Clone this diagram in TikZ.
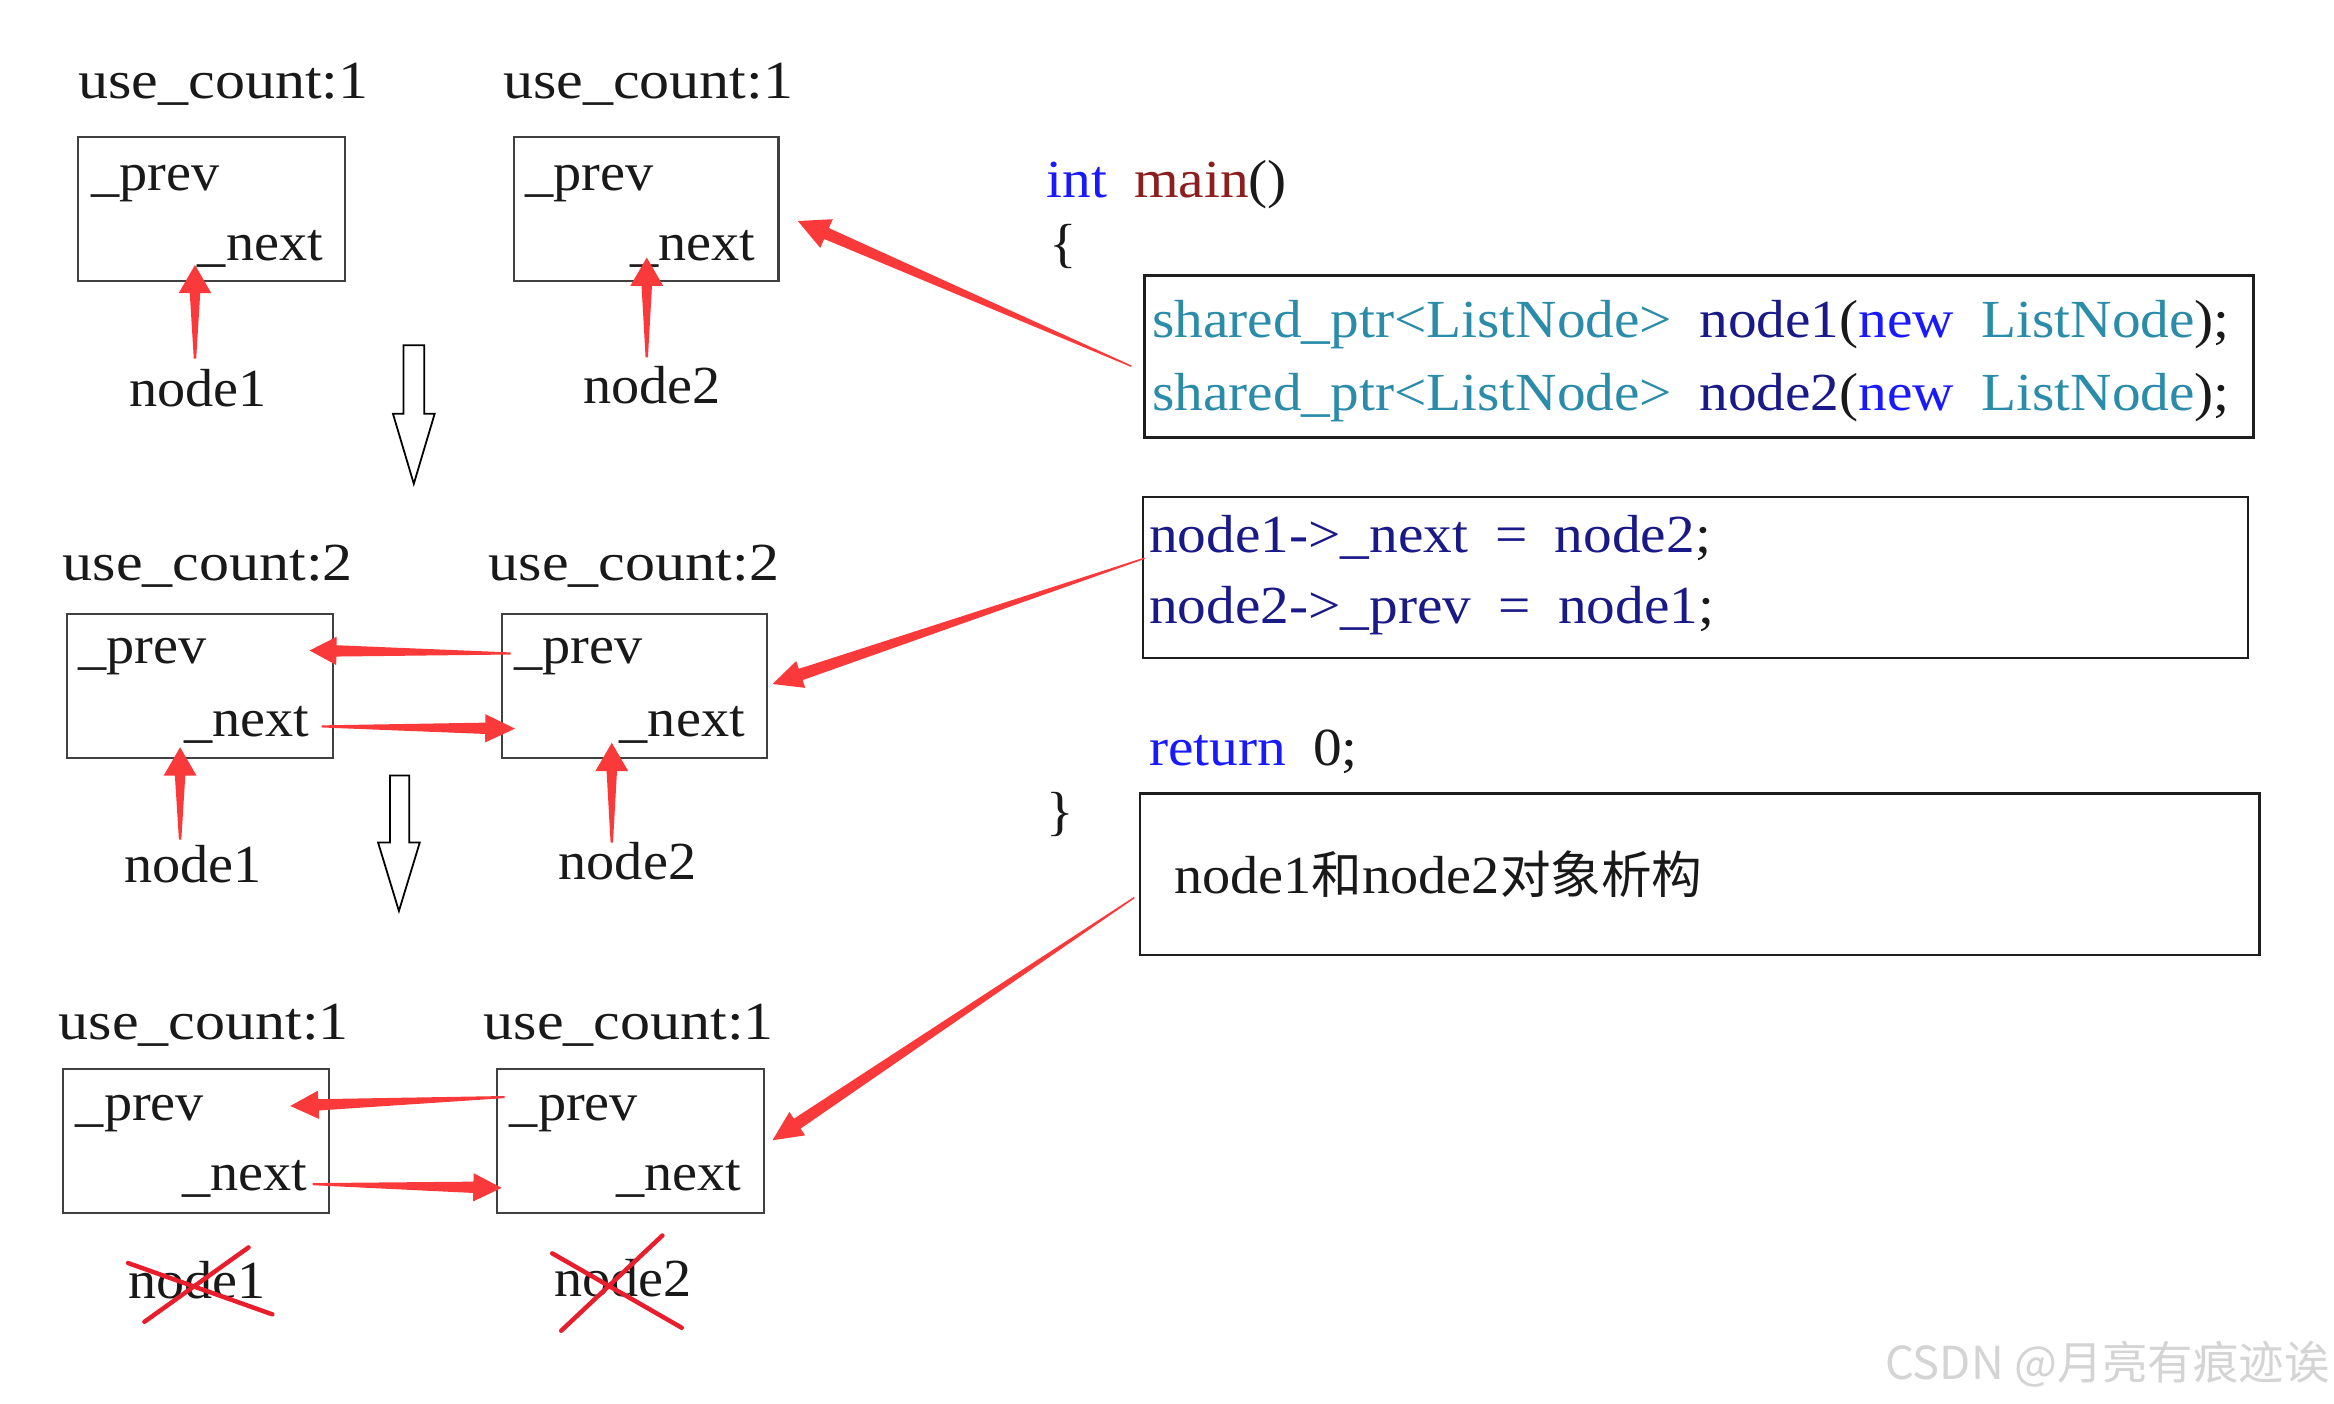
\documentclass[tikz,border=0pt]{standalone}
\usepackage{fontspec}
\setmainfont{Liberation Serif}[FakeStretch=1.05]
\newfontfamily\lblfont{Liberation Serif}[FakeStretch=1.12]
\newfontfamily\codefont{Liberation Serif}[FakeStretch=1.07,WordSpace=1.9]
\newfontfamily\cjk{Noto Sans CJK SC}
\usetikzlibrary{calc}
\definecolor{redc}{RGB}{250,58,58}
\definecolor{crossred}{RGB}{232,30,45}
\definecolor{boxgray}{RGB}{64,64,64}
\definecolor{codeborder}{RGB}{30,30,30}
\definecolor{kwblue}{RGB}{25,25,255}
\definecolor{typeteal}{RGB}{43,140,170}
\definecolor{varnavy}{RGB}{25,25,135}
\definecolor{fnred}{RGB}{140,30,30}
\definecolor{textc}{RGB}{25,25,25}
\definecolor{wmgray}{RGB}{212,212,212}
\tikzset{
  taper/.style args={#1/#2/#3/#4}{to path={
    let \p1=($(\tikztotarget)!#3!(\tikztostart)$) in
    ($(\tikztostart)!#1!90:(\tikztotarget)$)
    -- ($(\p1)!#2!90:(\tikztotarget)$)
    -- ($(\p1)!#4!90:(\tikztotarget)$)
    -- (\tikztotarget)
    -- ($(\p1)!#4!-90:(\tikztotarget)$)
    -- ($(\p1)!#2!-90:(\tikztotarget)$)
    -- ($(\tikztostart)!#1!-90:(\tikztotarget)$)
    -- cycle}},
  redarrow/.style={fill=redc, draw=none},
  txt/.style={anchor=base west, font=\fontsize{36}{40}\selectfont, text=textc},
  lbltxt/.style={anchor=base west, font=\lblfont\fontsize{36}{40}\selectfont, text=textc},
  codetxt/.style={anchor=base west, font=\codefont\fontsize{36}{40}\selectfont, text=textc},
  cellbox/.style={draw=boxgray, line width=1.4pt, anchor=north west},
  codebox/.style={draw=codeborder, line width=1.6pt, anchor=north west},
  crossline/.style={draw=crossred, line width=3pt, line cap=round},
  hollow/.style={draw=black, line width=1.2pt, fill=white, line join=miter}
}
\begin{document}
\begin{tikzpicture}[x=1pt,y=-1pt, every node/.style={inner sep=0pt,outer sep=0pt}]
\useasboundingbox[fill=white] (0,0) rectangle (1568,943.2);

% ---------- row 1 ----------
\node[lbltxt] (r1u1) at (52.7,66) {use\_count:1};
\node[lbltxt] (r1u2) at (338,66) {use\_count:1};
\node[cellbox, minimum width=179.3pt, minimum height=97pt] (r1b1) at (52.7,92) {};
\node[cellbox, minimum width=178pt, minimum height=97pt] (r1b2) at (345,92) {};
\node[txt] (r1p1) at (61.5,127.7) {\_prev};
\node[txt] (r1x1) at (133,174.7) {\_next};
\node[txt] (r1p2) at (353,127.7) {\_prev};
\node[txt] (r1x2) at (423.5,174.7) {\_next};
\node[txt] (r1n1) at (87,273) {node1};
\node[txt] (r1n2) at (392,271.4) {node2};
\coordinate (r1s1) at (131,241);
\coordinate (r1t1) at (131,178);
\coordinate (r1s2) at (434.5,240);
\coordinate (r1t2) at (434.5,173);
\fill[redarrow] (r1s1) to[taper=0.8pt/3.5pt/19pt/11pt] (r1t1);
\fill[redarrow] (r1s2) to[taper=0.8pt/3.5pt/19pt/11pt] (r1t2);
\draw[hollow] (271,232) -- (285,232) -- (285,278) -- (292,278) -- (278,325) -- (264,278) -- (271,278) -- cycle;

% ---------- row 2 ----------
\node[lbltxt] (r2u1) at (42.2,389.7) {use\_count:2};
\node[lbltxt] (r2u2) at (328.5,389.7) {use\_count:2};
\node[cellbox, minimum width=179pt, minimum height=96.5pt] (r2b1) at (45,412.5) {};
\node[cellbox, minimum width=178pt, minimum height=96.5pt] (r2b2) at (337,412.5) {};
\node[txt] (r2p1) at (52.7,446) {\_prev};
\node[txt] (r2x1) at (123.7,495) {\_next};
\node[txt] (r2p2) at (345.4,446) {\_prev};
\node[txt] (r2x2) at (416.4,495) {\_next};
\node[txt] (r2n1) at (83.6,593) {node1};
\node[txt] (r2n2) at (375.3,591) {node2};
\coordinate (r2s1) at (121,564);
\coordinate (r2t1) at (121,502);
\coordinate (r2s2) at (411,566);
\coordinate (r2t2) at (411,499);
\fill[redarrow] (r2s1) to[taper=0.8pt/3.5pt/19pt/11pt] (r2t1);
\fill[redarrow] (r2s2) to[taper=0.8pt/3.5pt/19pt/11pt] (r2t2);
\coordinate (r2ps) at (343,439);
\coordinate (r2pt) at (208,437);
\coordinate (r2ns) at (216,488);
\coordinate (r2nt) at (346,489.5);
\fill[redarrow] (r2ps) to[taper=0.7pt/3.8pt/18pt/9.5pt] (r2pt);
\fill[redarrow] (r2ns) to[taper=0.7pt/3.8pt/20pt/9.5pt] (r2nt);
\draw[hollow] (262,521) -- (275,521) -- (275,566) -- (282,566) -- (268,612) -- (254,566) -- (262,566) -- cycle;

% ---------- row 3 ----------
\node[lbltxt] (r3u1) at (39.4,698) {use\_count:1};
\node[lbltxt] (r3u2) at (325,698) {use\_count:1};
\node[cellbox, minimum width=178.5pt, minimum height=97pt] (r3b1) at (42.5,718) {};
\node[cellbox, minimum width=179pt, minimum height=97pt] (r3b2) at (334,718) {};
\node[txt] (r3p1) at (51,752.5) {\_prev};
\node[txt] (r3x1) at (122.3,800) {\_next};
\node[txt] (r3p2) at (342.6,752.5) {\_prev};
\node[txt] (r3x2) at (414,800) {\_next};
\node[txt] (r3n1) at (86,872) {node1};
\node[txt] (r3n2) at (372.4,871) {node2};
\coordinate (r3ps) at (339,737);
\coordinate (r3pt) at (195,743);
\coordinate (r3ns) at (210,795.5);
\coordinate (r3nt) at (337,798);
\fill[redarrow] (r3ps) to[taper=0.7pt/3.8pt/19pt/9.5pt] (r3pt);
\fill[redarrow] (r3ns) to[taper=0.7pt/3.8pt/19pt/9.5pt] (r3nt);
\draw[crossline] (86,848.5) -- (183,883);
\draw[crossline] (97,888) -- (167,838);
\draw[crossline] (371,842) -- (458,892);
\draw[crossline] (377,894) -- (445,830);

% ---------- code ----------
\node[codetxt] (main) at (703,132.6) {\textcolor{kwblue}{int} \textcolor{fnred}{main}()};
\node[codetxt] (lbrace) at (705,176) {\{};
\node[codebox, minimum width=745pt, minimum height=109pt] (c1) at (769,185) {};
\node[codetxt] (c1l1) at (774,227) {\textcolor{typeteal}{shared\_ptr<ListNode>} \textcolor{varnavy}{node1}(\textcolor{kwblue}{new} \textcolor{typeteal}{ListNode});};
\node[codetxt] (c1l2) at (774,275.5) {\textcolor{typeteal}{shared\_ptr<ListNode>} \textcolor{varnavy}{node2}(\textcolor{kwblue}{new} \textcolor{typeteal}{ListNode});};
\node[codebox, minimum width=742pt, minimum height=108pt] (c2) at (768,334) {};
\node[codetxt] (c2l1) at (772,371) {\textcolor{varnavy}{node1->\_next = node2};};
\node[codetxt] (c2l2) at (772,419) {\textcolor{varnavy}{node2->\_prev = node1};};
\node[codetxt] (ret) at (772,514) {\textcolor{kwblue}{return} 0;};
\node[codetxt] (rbrace) at (703,557.5) {\}};
\node[codebox, minimum width=752pt, minimum height=108.6pt] (c3) at (766,533) {};
\node[txt] (c3l1) at (789,600) {node1{\cjk\fontsize{34}{40}\selectfont 和}node2{\cjk\fontsize{34}{40}\selectfont 对象析构}};

\coordinate (d1s) at (760,246);
\coordinate (d1t) at (536,148.5);
\coordinate (d2s) at (769,375);
\coordinate (d2t) at (519,459.5);
\coordinate (d3s) at (762,603);
\coordinate (d3t) at (519,766);
\fill[redarrow] (d1s) to[taper=0.5pt/4pt/21pt/10.5pt] (d1t);
\fill[redarrow] (d2s) to[taper=0.5pt/4pt/20pt/9.5pt] (d2t);
\fill[redarrow] (d3s) to[taper=0.5pt/4pt/20pt/9.5pt] (d3t);

% ---------- watermark ----------
\node[anchor=base east, font=\cjk\fontsize{30.5}{33}\selectfont, text=wmgray] (wm) at (1565,927) {CSDN @月亮有痕迹诶};
\end{tikzpicture}
\end{document}
